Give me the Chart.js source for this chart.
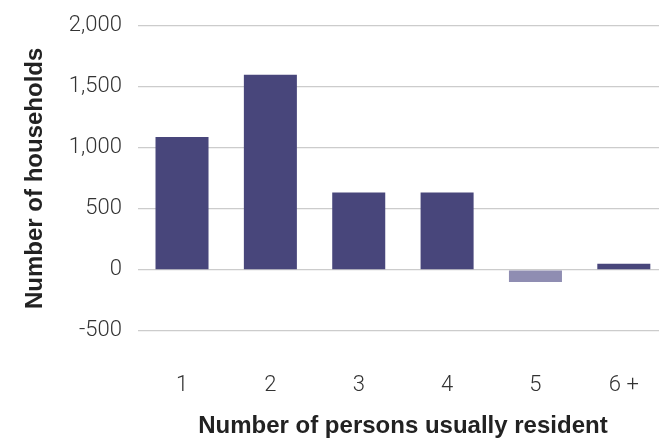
<!DOCTYPE html>
<html>
<head>
<meta charset="utf-8">
<script src="https://cdn.jsdelivr.net/npm/chart.js@4"></script>
<style>
  html, body { margin: 0; padding: 0; background: #fff; overflow: hidden; }
  #wrap { width: 670px; height: 442px; }
</style>
</head>
<body>
<div id="wrap"><canvas id="householdChart"></canvas></div>
<script>
// data
const categories = ['1', '2', '3', '4', '5', '6 +'];
const households = [1090, 1600, 635, 635, -100, 50];
const yTicks = [-500, 0, 500, 1000, 1500, 2000];

const darkBar = '#48467b';
const lightBar = '#8f8db2';

const ctx = document.getElementById('householdChart').getContext('2d');

new Chart(ctx, {
    type: 'bar',
    data: {
        labels: categories,
        datasets: [{
            label: 'Households',
            data: households,
            backgroundColor: c => (c.raw < 0 ? lightBar : darkBar),
            barPercentage: 0.6,
            categoryPercentage: 1
        }]
    },
    options: {
        responsive: true,
        maintainAspectRatio: false,
        animation: false,
        layout: { padding: { top: 4, right: 2, bottom: 1, left: 21 } },
        plugins: {
            legend: { display: false },
            tooltip: { enabled: false }
        },
        scales: {
            x: {
                // transparent tick marks give the gap under the plot
                grid: { display: true, drawOnChartArea: false, drawTicks: true, tickLength: 41, tickColor: 'rgba(0,0,0,0)' },
                border: { display: false },
                ticks: {
                    color: '#333',
                    padding: 0,
                    font: { family: 'Roboto', size: 22, weight: 300 }
                },
                title: {
                    display: true,
                    text: 'Number of persons usually resident',
                    color: '#222',
                    padding: { top: 14, bottom: 0 },
                    font: { family: 'Liberation Sans', size: 24, weight: 'bold' }
                }
            },
            y: {
                min: -500,
                max: 2000,
                afterBuildTicks: axis => { axis.ticks = yTicks.map(v => ({ value: v })); },
                grid: { color: '#cccccc', lineWidth: 1.3, drawTicks: false },
                border: { display: false },
                ticks: {
                    color: '#333',
                    padding: 16,
                    font: { family: 'Roboto', size: 22, weight: 300, lineHeight: 0.9 },
                    callback: v => v.toLocaleString('en-US')
                },
                title: {
                    display: true,
                    text: 'Number of households',
                    color: '#222',
                    padding: { top: 0, bottom: 3 },
                    font: { family: 'Liberation Sans', size: 24, weight: 'bold' }
                }
            }
        }
    }
});
</script>
</body>
</html>
